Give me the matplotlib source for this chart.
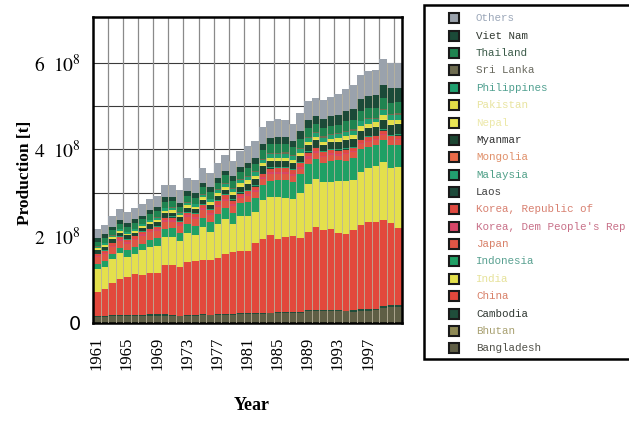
import matplotlib
matplotlib.use("Agg")
import matplotlib.pyplot as plt
import numpy as np
from matplotlib.patches import Rectangle

plt.rcParams["mathtext.fontset"] = "stix"

years = list(range(1961, 2002))

# Paddy rice production, million tonnes (stacked bottom to top)
bangladesh = [14.4, 13.8, 15.6, 16.2, 15.8, 15.0, 15.5, 16.8, 17.2, 16.9, 15.0, 15.1, 17.0, 17.2,
              19.0, 17.8, 19.0, 19.3, 19.1, 20.8, 20.6, 21.2, 21.7, 21.9, 22.6, 23.1, 23.3, 23.1,
              26.8, 26.8, 27.4, 27.4, 27.3, 26.5, 26.4, 28.2, 28.2, 29.7, 34.4, 37.6, 36.3]
bhutan = [0.04, 0.04, 0.04, 0.04, 0.04, 0.04, 0.04, 0.04, 0.04, 0.04, 0.04, 0.04, 0.05, 0.05,
          0.05, 0.05, 0.05, 0.05, 0.05, 0.05, 0.05, 0.05, 0.05, 0.05, 0.05, 0.05, 0.05, 0.05,
          0.05, 0.05, 0.05, 0.05, 0.05, 0.05, 0.05, 0.05, 0.05, 0.05, 0.05, 0.05, 0.05]
cambodia = [2.4, 2.6, 2.8, 2.6, 2.4, 2.5, 2.5, 3.2, 3.8, 3.8, 2.7, 2.1, 1.8, 0.7, 1.2, 1.6, 1.5,
            2.0, 1.2, 1.7, 1.5, 1.8, 2.0, 1.8, 2.3, 2.6, 2.3, 2.6, 3.2, 2.5, 2.4, 2.2, 2.4, 2.2,
            3.4, 3.5, 3.4, 3.5, 4.0, 4.0, 4.1]
china = [53.6, 62.9, 73.7, 83.0, 87.7, 95.4, 93.7, 94.5, 95.1, 113.1, 116.6, 112.3, 121.8, 124.3,
         126.0, 126.2, 128.6, 137.0, 143.8, 142.9, 144.0, 161.6, 168.9, 178.3, 168.6, 172.2,
         174.3, 169.1, 180.1, 191.6, 183.8, 186.2, 177.7, 175.9, 185.2, 195.1, 200.7, 198.7,
         198.5, 187.9, 179.3]
india = [53.5, 50.3, 55.5, 58.6, 45.9, 45.7, 56.4, 59.6, 60.7, 63.3, 64.4, 58.9, 66.1, 59.4,
         74.1, 63.9, 78.8, 80.8, 63.6, 80.3, 80.0, 70.7, 90.0, 87.6, 95.8, 90.8, 85.3, 105.7,
         110.9, 111.5, 111.0, 109.0, 120.1, 122.5, 115.4, 122.1, 123.8, 129.0, 134.2, 127.5, 139.9]
indonesia = [12.1, 12.8, 11.4, 12.6, 15.4, 15.6, 14.9, 17.2, 18.0, 19.3, 20.5, 19.4, 21.5, 22.5,
             22.3, 23.3, 23.3, 25.8, 26.3, 29.7, 32.8, 33.6, 35.3, 38.1, 39.0, 39.7, 40.1, 41.7,
             44.7, 45.2, 44.7, 48.2, 48.2, 46.6, 49.7, 51.1, 49.4, 49.2, 50.9, 51.9, 50.5]
japan = [16.2, 16.4, 16.0, 16.0, 15.8, 16.3, 18.0, 17.9, 17.0, 16.5, 14.1, 15.3, 15.2, 15.4,
         17.1, 15.3, 16.4, 15.7, 14.9, 12.2, 12.8, 12.8, 13.0, 14.8, 14.6, 14.6, 13.3, 12.4,
         12.9, 13.1, 12.0, 13.3, 9.8, 15.0, 13.4, 12.9, 12.5, 11.2, 11.5, 11.9, 11.3]
korea_dpr = [3.0, 3.1, 3.3, 3.4, 3.5, 3.6, 3.7, 3.8, 3.9, 4.0, 4.1, 4.2, 4.3, 4.4, 4.5, 4.6, 4.8,
             5.0, 5.1, 5.0, 5.1, 5.2, 5.3, 5.4, 5.5, 5.4, 5.4, 5.4, 5.4, 4.7, 4.5, 4.3, 4.8, 3.6,
             2.1, 1.4, 2.3, 2.4, 2.2, 1.7, 2.1]
korea_rep = [4.8, 4.3, 5.1, 5.6, 5.2, 5.4, 4.8, 4.3, 5.5, 5.6, 5.5, 5.5, 5.8, 6.1, 6.5, 7.2, 8.3,
             8.1, 7.7, 5.3, 7.0, 7.3, 7.6, 7.9, 7.9, 7.8, 7.6, 8.4, 8.2, 7.7, 7.4, 7.3, 6.6, 7.1,
             6.4, 7.1, 7.4, 6.8, 7.1, 7.2, 7.5]
laos = [0.5, 0.5, 0.55, 0.55, 0.6, 0.6, 0.65, 0.7, 0.8, 0.85, 0.9, 0.85, 0.9, 0.9, 0.9, 0.7, 0.7,
        0.75, 1.0, 1.05, 1.15, 1.1, 1.2, 1.3, 1.4, 1.5, 1.2, 1.1, 1.4, 1.5, 1.2, 1.5, 1.25, 1.6,
        1.4, 1.4, 1.65, 1.7, 2.1, 2.2, 2.3]
malaysia = [1.1, 1.1, 1.2, 1.2, 1.3, 1.3, 1.4, 1.6, 1.8, 1.7, 1.9, 1.7, 1.9, 2.0, 2.0, 1.8, 1.9,
            1.6, 2.1, 2.0, 2.1, 1.8, 1.6, 1.5, 1.7, 1.7, 1.6, 1.7, 1.8, 1.9, 1.9, 2.0, 2.1, 2.1,
            2.1, 2.2, 2.1, 1.9, 2.0, 2.1, 2.1]
mongolia = [0.0] * 41
myanmar = [6.8, 7.7, 7.9, 8.4, 8.0, 6.6, 7.6, 7.9, 7.9, 8.2, 8.3, 7.8, 8.6, 8.6, 9.2, 9.3, 9.5,
           10.4, 10.4, 13.3, 14.1, 14.4, 14.1, 14.5, 14.3, 14.3, 13.6, 13.2, 13.8, 14.0, 13.2,
           14.8, 16.8, 18.2, 17.7, 17.7, 16.7, 17.1, 20.1, 21.3, 21.9]
nepal = [2.1, 2.2, 2.2, 2.2, 2.2, 2.1, 2.2, 2.3, 2.3, 2.3, 2.3, 2.0, 2.3, 2.5, 2.6, 2.5, 2.5, 2.3,
         2.1, 2.5, 2.6, 1.8, 2.7, 2.8, 2.7, 2.3, 2.4, 3.0, 3.3, 3.5, 3.2, 2.6, 2.9, 3.5, 3.6, 3.7,
         3.6, 3.7, 3.7, 4.2, 4.2]
pakistan = [1.7, 1.7, 1.8, 1.9, 2.0, 2.0, 2.2, 2.6, 3.2, 3.3, 3.4, 3.5, 3.7, 3.5, 3.9, 4.2, 4.4,
            4.9, 4.9, 4.7, 5.1, 5.2, 5.0, 5.0, 4.4, 5.2, 4.9, 4.8, 4.8, 4.9, 4.9, 4.7, 6.0, 5.2,
            6.0, 6.5, 6.5, 7.0, 7.7, 7.2, 5.8]
philippines = [3.9, 3.9, 3.8, 3.9, 4.0, 4.1, 4.3, 4.4, 5.2, 5.3, 5.3, 4.6, 5.6, 5.6, 6.4, 6.2,
               6.9, 7.2, 7.5, 7.6, 7.7, 8.3, 7.8, 8.2, 8.8, 9.2, 8.5, 8.9, 9.5, 9.3, 9.7, 9.1,
               9.4, 10.5, 10.5, 11.3, 11.3, 8.6, 11.8, 12.4, 13.0]
sri_lanka = [0.9, 1.0, 1.0, 1.1, 0.8, 1.0, 1.3, 1.5, 1.4, 1.6, 1.4, 1.3, 1.3, 1.6, 1.2, 1.2, 1.7,
             1.9, 1.9, 2.1, 2.2, 2.2, 2.5, 2.4, 2.7, 2.6, 2.1, 2.5, 2.1, 2.5, 2.4, 2.3, 2.6, 2.7,
             2.8, 2.1, 2.2, 2.7, 2.9, 2.9, 2.7]
thailand = [10.2, 11.3, 11.3, 10.4, 11.2, 13.6, 9.6, 12.4, 13.4, 13.9, 13.7, 12.4, 14.9, 13.4,
            15.3, 15.1, 14.0, 17.5, 15.8, 17.4, 17.8, 17.0, 19.5, 19.9, 20.3, 18.9, 18.4, 21.3,
            20.6, 17.2, 20.4, 19.9, 18.4, 21.1, 22.0, 22.3, 23.6, 22.3, 24.2, 25.8, 26.5]
viet_nam = [9.0, 9.2, 9.0, 9.4, 9.4, 8.9, 8.7, 8.6, 9.0, 10.2, 9.9, 10.4, 10.7, 10.9, 10.5, 11.8,
            11.0, 9.8, 11.4, 11.6, 12.4, 14.4, 14.7, 15.5, 15.9, 16.0, 15.1, 17.0, 18.9, 19.2,
            19.6, 21.6, 22.8, 23.5, 25.0, 26.4, 27.5, 29.1, 31.4, 32.5, 32.1]
others = [21, 22, 24, 26, 25, 25, 26, 27, 27, 27, 28, 29, 31, 31, 34, 33, 35, 36, 35, 37,
          38, 38, 39, 39, 41, 40, 39, 41, 42, 42, 44, 45, 48, 51, 55, 56, 57, 58, 60, 59, 58]

series = [
    ("Bangladesh", bangladesh), ("Bhutan", bhutan), ("Cambodia", cambodia), ("China", china),
    ("India", india), ("Indonesia", indonesia), ("Japan", japan),
    ("Korea, Dem People's Rep", korea_dpr), ("Korea, Republic of", korea_rep), ("Laos", laos),
    ("Malaysia", malaysia), ("Mongolia", mongolia), ("Myanmar", myanmar), ("Nepal", nepal),
    ("Pakistan", pakistan), ("Philippines", philippines), ("Sri Lanka", sri_lanka),
    ("Thailand", thailand), ("Viet Nam", viet_nam), ("Others", others),
]

fill_colors = ["#5f5e45", "#8f8a55", "#1f4d3a", "#e2483c", "#e4e04c", "#1fa065", "#e05545",
               "#d84668", "#e04a40", "#1e4a3a", "#22a070", "#e86a48", "#1c4632", "#e8e454",
               "#e2de48", "#20a070", "#6e6c50", "#1f8450", "#1b4a38", "#9aa2ac"]
text_colors = ["#505048", "#a8a070", "#303832", "#d88068", "#e6e29a", "#58a090", "#d88068",
               "#c87088", "#d88070", "#404040", "#50a088", "#e0906a", "#303030", "#ece8a8",
               "#e8e4a0", "#50a090", "#6a6a60", "#3a5a48", "#303830", "#9aa6b8"]

W, H = 629, 428
fig = plt.figure(figsize=(W / 100, H / 100), dpi=100)
ax = fig.add_axes([93 / W, 1 - 323 / H, 309 / W, 306 / H])

x = np.array(years)
bottom = np.zeros(len(years))
for (name, vals), col in zip(series, fill_colors):
    v = np.array(vals) * 1e6
    ax.bar(x, v, width=1.0, bottom=bottom, color=col, edgecolor="none", zorder=2)
    bottom += v

# thin separators between neighbouring bars
tops = np.minimum(bottom[:-1], bottom[1:])
ax.vlines(x[:-1] + 0.5, 0, tops, colors="#b9b29c", linewidth=0.7, alpha=0.85, zorder=3)

ax.set_xlim(1960.5, 2001.5)
ax.set_ylim(0, 7.05e8)

# grid
for gy in np.arange(1e8, 7e8, 1e8):
    ax.axhline(gy, color="#3a3a3a", linewidth=0.8, zorder=1)
for gx in np.arange(1962.5, 2001.5, 2):
    ax.axvline(gx, color="#8a8a8a", linewidth=0.9, zorder=1)

for s in ax.spines.values():
    s.set_linewidth(1.8)
    s.set_color("black")

ax.set_yticks([0, 2e8, 4e8, 6e8])
ax.set_yticklabels(["0", r"$2\ \ 10^{8}$", r"$4\ \ 10^{8}$", r"$6\ \ 10^{8}$"], fontsize=14)
ax.set_xticks(list(range(1961, 2001, 4)))
ax.set_xticklabels([str(y) for y in range(1961, 2001, 4)], rotation=90,
                   fontsize=12, family="Liberation Serif")
ax.tick_params(axis="both", length=0)
ax.tick_params(axis="y", pad=9)
ax.tick_params(axis="x", pad=10)

fig.text(25 / W, 1 - 173 / H, "Production [t]", rotation=90, ha="center", va="center",
         fontsize=12.5, fontweight="bold", family="Liberation Serif")
fig.text(252 / W, 1 - 406 / H, "Year", ha="center", va="center",
         fontsize=13, fontweight="bold", family="Liberation Serif")

# legend box
fig.add_artist(Rectangle((424 / W, 1 - 359 / H), 230 / W, 354 / H, transform=fig.transFigure,
                         facecolor="white", edgecolor="black", linewidth=1.8, clip_on=False))
for i, ((name, _), fc, tc) in enumerate(reversed(list(zip(series, fill_colors, text_colors)))):
    yc = 18.3 + i * 17.37
    fig.add_artist(Rectangle((449 / W, 1 - (yc + 5) / H), 10 / W, 10 / H,
                             transform=fig.transFigure, facecolor=fc, edgecolor="#1a1a1a",
                             linewidth=1.5))
    fig.text(476 / W, 1 - yc / H, name, ha="left", va="center", fontsize=7.8,
             family="Liberation Mono", color=tc)

fig.savefig("out.png", dpi=100)
